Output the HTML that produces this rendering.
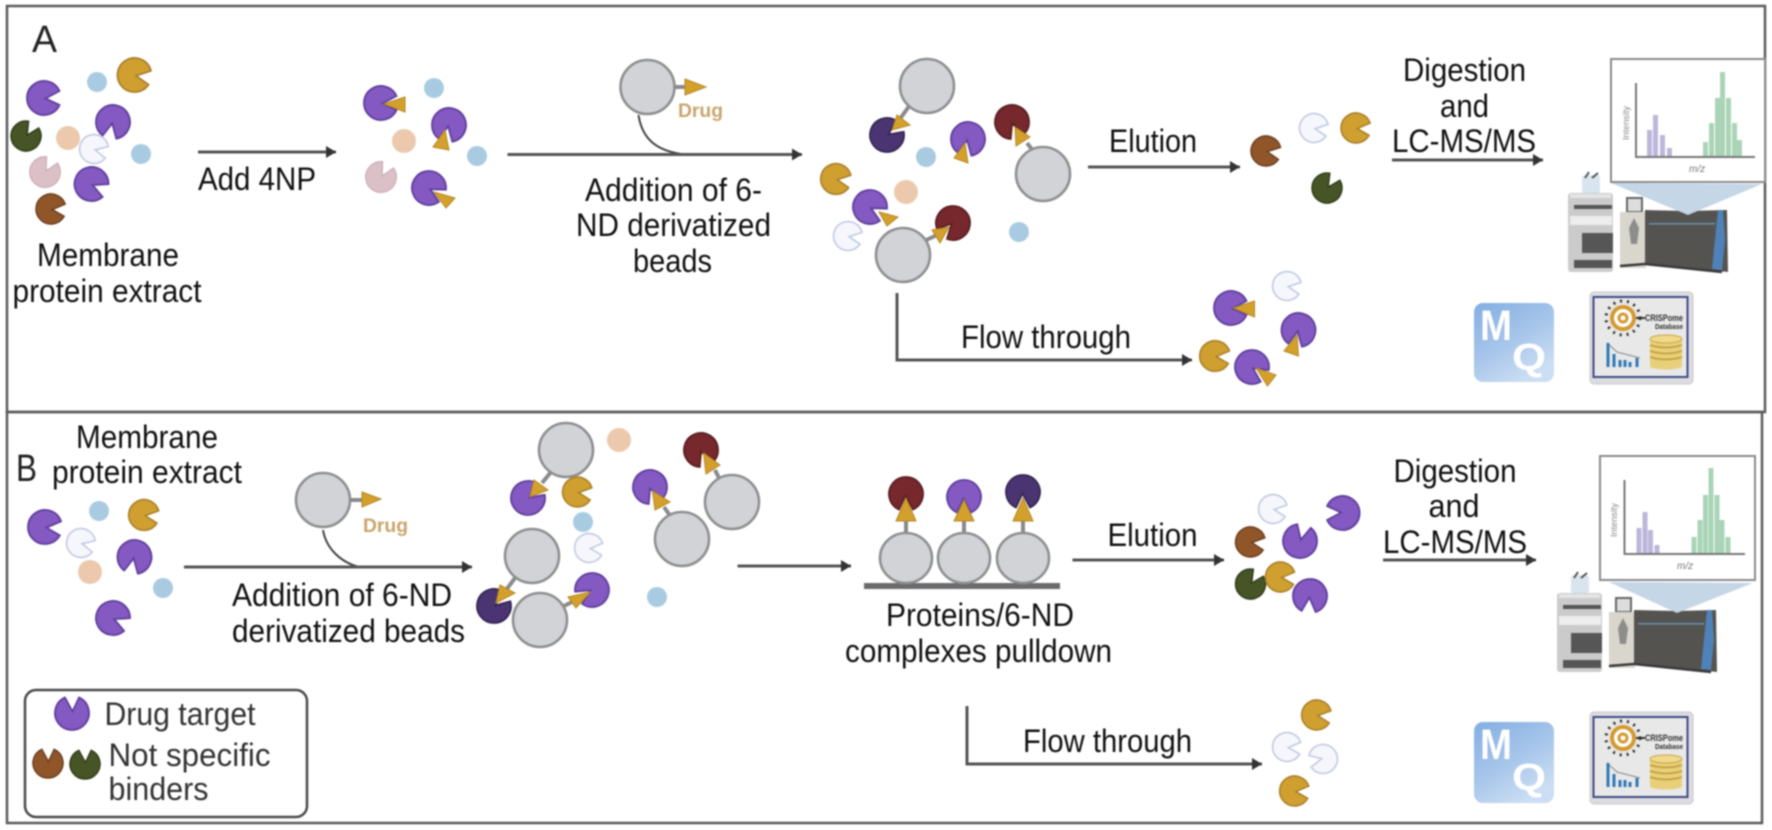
<!DOCTYPE html>
<html><head><meta charset="utf-8"><style>
html,body{margin:0;padding:0;background:#fff;width:1772px;height:830px;overflow:hidden}
svg{display:block;filter:blur(.7px)}
text{font-family:"Liberation Sans",sans-serif;fill:#111}
.t{font-size:32px}
.d{font-size:19px;font-weight:bold;fill:#c9a56c}
.l{fill:none;stroke:#555;stroke-width:3}
.b{fill:#d2d3d6;stroke:#8e8f91;stroke-width:2.6}
.s{stroke:#8a8a8a;stroke-width:4}
.g{fill:#d4a02c;stroke:#b58622;stroke-width:1}
.pu{fill:#8459c2;stroke:#5f3f9c;stroke-width:1.8}
.go{fill:#cf9f2f;stroke:#a9802a;stroke-width:1.8}
.wh{fill:#f6f7fc;stroke:#c4cce4;stroke-width:2}
.pk{fill:#dcc0c8;stroke:#cdb0ba;stroke-width:1.5}
.br{fill:#90562a;stroke:#6e4120;stroke-width:1.8}
.gr{fill:#465426;stroke:#333e1c;stroke-width:1.8}
.dr{fill:#76282c;stroke:#5a1e22;stroke-width:1.8}
.dp{fill:#4a3572;stroke:#352653;stroke-width:1.8}
.bl{fill:#a9cbe2}
.pe{fill:#ecc9ac}
.vp{fill:#bdb6da}
.vg{fill:#aad4b7}
</style></head><body>
<svg width="1772" height="830" viewBox="0 0 1772 830" xmlns="http://www.w3.org/2000/svg">
<defs>
<path id="pac" d="M1.500 0.500 L15.500 -7 A17 17 0 1 0 15.500 7 Z"/>
<marker id="ah" markerUnits="userSpaceOnUse" markerWidth="12" markerHeight="14" refX="10" refY="7" orient="auto"><path d="M0 1 L10 7 L0 13 Z" fill="#333"/></marker>
<linearGradient id="mq" x1="0" y1="0" x2=".6" y2="1"><stop offset="0" stop-color="#82aee2"/><stop offset=".55" stop-color="#a6c5ea"/><stop offset="1" stop-color="#cbdef3"/></linearGradient>
<g id="inst">
<rect x="1582" y="175" width="18" height="19" rx="3" fill="#d8e5ef"/>
<path d="M1585 178 L1589 172 M1592 178 L1598 173" stroke="#555" stroke-width="2"/>
<rect x="1568" y="193" width="45" height="79" rx="3" fill="#cbcbcb"/>
<rect x="1570" y="194" width="41" height="4" fill="#e4e4e4"/>
<rect x="1574" y="205" width="38" height="4" fill="#555"/>
<rect x="1570" y="216" width="42" height="9" fill="#ededed"/>
<rect x="1582" y="233" width="31" height="20" fill="#565656"/>
<rect x="1574" y="260" width="38" height="8" fill="#555"/>
<rect x="1627" y="198" width="15" height="14" fill="#ddd" stroke="#666" stroke-width="2"/>
<rect x="1620" y="212" width="26" height="56" fill="#d9d6cd"/>
<path d="M1634 218 L1639 228 L1637 244 L1631 244 L1629 228 Z" fill="#8d8d8a"/>
<path d="M1645 210 L1688 211 L1727 210 L1728 272 L1645 263 Z" fill="#555350"/>
<path d="M1718 210 L1723 210 L1725 240 L1722 270 L1712 269 Z" fill="#4f82b8"/>
<rect x="1649" y="223" width="66" height="1.500" fill="#6a90b0"/>
<path d="M1620 266 L1645 264 L1722 272" fill="none" stroke="#3a3a3a" stroke-width="2.500"/>
</g>
<g id="crisp">
<rect x="1590" y="0" width="103" height="92" rx="4" fill="#dcdce0" stroke="#c8c8cc"/>
<rect x="1593.500" y="5" width="94" height="80" fill="#e8e8e8" stroke="#3e4a86" stroke-width="2"/>
<circle cx="1623" cy="26" r="11" fill="#fff" stroke="#d39a2e" stroke-width="4"/>
<circle cx="1623" cy="26" r="17" fill="none" stroke="#333" stroke-width="3" stroke-dasharray="2 5"/>
<circle cx="1623" cy="26" r="4" fill="#fff" stroke="#d39a2e" stroke-width="3"/>
<rect x="1636" y="25" width="9" height="2" fill="#333"/>
<text x="1645" y="29" font-size="9" font-weight="bold" style="fill:#333" textLength="38" lengthAdjust="spacingAndGlyphs">CRISPome</text>
<text x="1655" y="37" font-size="7" font-weight="bold" style="fill:#333" textLength="28" lengthAdjust="spacingAndGlyphs">Database</text>
<path d="M1607 51 L1617 60 L1640 66" fill="none" stroke="#888" stroke-width="1"/>
<path d="M1608 51V75M1614 62V75M1620 68V75M1625 68V75M1630 70V75M1637 66V75" stroke="#2f77b8" stroke-width="3"/>
<rect x="1650" y="47" width="32" height="27" fill="#e8cf7a"/>
<ellipse cx="1666" cy="47" rx="16" ry="4" fill="#efd98c" stroke="#c9a640" stroke-width="1"/>
<path d="M1650 53 Q1666 58 1682 53 M1650 59 Q1666 64 1682 59 M1650 65 Q1666 70 1682 65" fill="none" stroke="#c09b38" stroke-width="1.500"/>
<ellipse cx="1666" cy="74" rx="16" ry="3.500" fill="#e8cf7a"/>
</g>
</defs>
<rect width="1772" height="830" fill="#fff"/>

<!-- panels -->
<rect x="7" y="6" width="1758" height="406" fill="none" stroke="#5b5b5b" stroke-width="2.500"/>
<rect x="7" y="412" width="1755" height="411" fill="none" stroke="#5b5b5b" stroke-width="2.500"/>

<text x="32" y="52" font-size="38" style="fill:#222" textLength="25" lengthAdjust="spacingAndGlyphs">A</text>
<text x="16" y="481" font-size="38" style="fill:#222" textLength="21" lengthAdjust="spacingAndGlyphs">B</text>

<!-- A: cluster 1 -->
<use href="#pac" class="go" transform="translate(134.500,75) rotate(10)"/>
<circle class="bl" cx="97" cy="82" r="10"/>
<use href="#pac" class="pu" transform="translate(44,98) rotate(0)"/>
<use href="#pac" class="pu" transform="translate(113,122) rotate(103)"/>
<use href="#pac" class="gr" transform="translate(26,136) rotate(-56) scale(.88)"/>
<circle class="pe" cx="68" cy="138" r="12"/>
<use href="#pac" class="wh" transform="translate(94,149) rotate(15) scale(.85)"/>
<circle class="bl" cx="141" cy="154" r="10"/>
<use href="#pac" class="pk" transform="translate(45,172) rotate(-60) scale(.9)"/>
<use href="#pac" class="pu" transform="translate(91.500,184) rotate(25)"/>
<use href="#pac" class="br" transform="translate(51,209) rotate(5) scale(.88)"/>
<text class="t" x="37" y="266" textLength="142" lengthAdjust="spacingAndGlyphs">Membrane</text>
<text class="t" x="12.500" y="302" textLength="189" lengthAdjust="spacingAndGlyphs">protein extract</text>
<line class="l" x1="198" y1="152" x2="336" y2="152" marker-end="url(#ah)"/>
<text class="t" x="198" y="190" textLength="118" lengthAdjust="spacingAndGlyphs">Add 4NP</text>

<!-- A: cluster 2 -->
<use href="#pac" class="pu" transform="translate(381,103) rotate(0)"/>
<polygon class="g" points="384,104 405,97 405,112"/>
<circle class="bl" cx="434" cy="88" r="10"/>
<use href="#pac" class="pu" transform="translate(449,125) rotate(103)"/>
<polygon class="g" points="445,130 433,147 449,150"/>
<circle class="pe" cx="404" cy="141" r="12"/>
<circle class="bl" cx="477" cy="156" r="10"/>
<use href="#pac" class="pk" transform="translate(381,177) rotate(-60) scale(.9)"/>
<use href="#pac" class="pu" transform="translate(429,188) rotate(30)"/>
<polygon class="g" points="434,192 455,198 446,208"/>

<!-- A: bead + drug -->
<circle class="b" cx="647.500" cy="87" r="27"/>
<line class="s" x1="675" y1="87" x2="687" y2="87"/>
<polygon class="g" points="685,79 685,95 706,87"/>
<text class="d" x="678" y="117" textLength="45" lengthAdjust="spacingAndGlyphs">Drug</text>
<path d="M638.500 115 C642 138 655 150 681 154" fill="none" stroke="#444" stroke-width="2"/>
<line class="l" x1="507.500" y1="154.500" x2="802" y2="154.500" marker-end="url(#ah)"/>
<text class="t" x="585" y="201" textLength="177" lengthAdjust="spacingAndGlyphs">Addition of 6-</text>
<text class="t" x="576" y="236" textLength="195" lengthAdjust="spacingAndGlyphs">ND derivatized</text>
<text class="t" x="633" y="272" textLength="79" lengthAdjust="spacingAndGlyphs">beads</text>

<!-- A: cluster 3 -->
<line class="s" x1="908.500" y1="107" x2="897" y2="123"/>
<circle class="b" cx="927" cy="86" r="27"/>
<use href="#pac" class="dp" transform="translate(887,135) rotate(-35)"/>
<polygon class="g" points="892,130 897,115 910,125"/>
<use href="#pac" class="pu" transform="translate(968,139) rotate(103)"/>
<polygon class="g" points="965,143 954,158 968,163"/>
<circle class="bl" cx="926" cy="157" r="10"/>
<line class="s" x1="1027" y1="143" x2="1034" y2="152"/>
<use href="#pac" class="dr" transform="translate(1012,122) rotate(70)"/>
<polygon class="g" points="1015,127 1016,146 1030,137"/>
<circle class="b" cx="1043" cy="174" r="27"/>
<circle class="pe" cx="906" cy="192" r="12"/>
<use href="#pac" class="go" transform="translate(836,179) rotate(10) scale(.9)"/>
<use href="#pac" class="pu" transform="translate(870,207) rotate(30)"/>
<polygon class="g" points="879,212 898,217 887,226"/>
<use href="#pac" class="wh" transform="translate(848,236) rotate(10) scale(.85)"/>
<line class="s" x1="937" y1="235" x2="920" y2="243"/>
<use href="#pac" class="dr" transform="translate(953,223) rotate(135)"/>
<polygon class="g" points="949,227 932,230 940,243"/>
<circle class="b" cx="903" cy="255" r="27"/>
<circle class="bl" cx="1019" cy="232" r="10"/>

<!-- A: elution -->
<text class="t" x="1109" y="152" textLength="88" lengthAdjust="spacingAndGlyphs">Elution</text>
<line class="l" x1="1088" y1="167" x2="1240" y2="167" marker-end="url(#ah)"/>
<use href="#pac" class="br" transform="translate(1266,151) rotate(10) scale(.88)"/>
<use href="#pac" class="wh" transform="translate(1314,128) rotate(10) scale(.85)"/>
<use href="#pac" class="go" transform="translate(1356,128) rotate(5) scale(.88)"/>
<use href="#pac" class="gr" transform="translate(1327,188) rotate(-55) scale(.88)"/>
<text class="t" x="1403" y="81" textLength="123" lengthAdjust="spacingAndGlyphs">Digestion</text>
<text class="t" x="1440" y="117" textLength="49" lengthAdjust="spacingAndGlyphs">and</text>
<text class="t" x="1392" y="152" textLength="144" lengthAdjust="spacingAndGlyphs">LC-MS/MS</text>
<line class="l" x1="1392" y1="160" x2="1543" y2="160" marker-end="url(#ah)"/>

<!-- A: flow through -->
<polyline class="l" points="897,293 897,360 1192,360" marker-end="url(#ah)"/>
<text class="t" x="961" y="348" textLength="170" lengthAdjust="spacingAndGlyphs">Flow through</text>
<use href="#pac" class="wh" transform="translate(1287,286) rotate(10) scale(.85)"/>
<use href="#pac" class="pu" transform="translate(1231,308) rotate(0)"/>
<polygon class="g" points="1233.500,308 1254.500,301 1254.500,317"/>
<use href="#pac" class="pu" transform="translate(1298.500,330) rotate(103)"/>
<polygon class="g" points="1297,335 1284,351 1298.500,356"/>
<use href="#pac" class="go" transform="translate(1215,356) rotate(5) scale(.9)"/>
<use href="#pac" class="pu" transform="translate(1252,367) rotate(35)"/>
<polygon class="g" points="1256,368 1276,375 1267.500,386"/>

<!-- A: instrument and spectrum -->
<use href="#inst"/>
<polygon points="1611,183 1762,184 1688,215" fill="#c5d6e6"/>
<rect x="1611" y="59" width="154" height="123" fill="#fff" stroke="#8a8a8a" stroke-width="2"/>
<g>
<rect class="vp" x="1647" y="130" width="5" height="27"/><rect class="vp" x="1653" y="115" width="5" height="42"/><rect class="vp" x="1660" y="135" width="5" height="22"/><rect class="vp" x="1667" y="148" width="5" height="9"/>
<rect class="vg" x="1703" y="142" width="5" height="15"/><rect class="vg" x="1709" y="123" width="5" height="34"/><rect class="vg" x="1715" y="98" width="5" height="59"/><rect class="vg" x="1720" y="72" width="5" height="85"/><rect class="vg" x="1726" y="98" width="5" height="59"/><rect class="vg" x="1732" y="123" width="5" height="34"/><rect class="vg" x="1737" y="140" width="5" height="17"/>
</g>
<path d="M1636 83 V157 H1755" fill="none" stroke="#777" stroke-width="2"/>
<text transform="translate(1629,140) rotate(-90)" font-size="9" style="fill:#888" textLength="34" lengthAdjust="spacingAndGlyphs">Intensity</text>
<text x="1689" y="172" font-size="10" font-style="italic" style="fill:#777">m/z</text>

<!-- A: MQ + CRISPome -->
<rect x="1474" y="303" width="80" height="79" rx="9" fill="url(#mq)"/>
<text x="1480" y="340" font-size="43" font-weight="bold" style="fill:#fff" textLength="32" lengthAdjust="spacingAndGlyphs">M</text>
<text x="1512" y="370" font-size="38" font-weight="bold" style="fill:#fff" textLength="34" lengthAdjust="spacingAndGlyphs">Q</text>
<use href="#crisp" transform="translate(0,292)"/>

<!-- B: cluster 1 -->
<text class="t" x="76" y="448" textLength="142" lengthAdjust="spacingAndGlyphs">Membrane</text>
<text class="t" x="52" y="483" textLength="190" lengthAdjust="spacingAndGlyphs">protein extract</text>
<use href="#pac" class="pu" transform="translate(45,527) rotate(5)"/>
<circle class="bl" cx="99" cy="511" r="10"/>
<use href="#pac" class="go" transform="translate(144,515) rotate(8) scale(.9)"/>
<use href="#pac" class="wh" transform="translate(81,543) rotate(15) scale(.85)"/>
<use href="#pac" class="pu" transform="translate(134.500,557) rotate(103)"/>
<circle class="pe" cx="90" cy="572" r="12"/>
<circle class="bl" cx="163" cy="588" r="10"/>
<use href="#pac" class="pu" transform="translate(113,618) rotate(25)"/>

<!-- B: bead + drug -->
<circle class="b" cx="323" cy="500" r="27"/>
<line class="s" x1="350" y1="500" x2="363" y2="500"/>
<polygon class="g" points="362,492 362,507 381,499"/>
<text class="d" x="363" y="532" textLength="45" lengthAdjust="spacingAndGlyphs">Drug</text>
<path d="M323 530 C326 548 340 562 359 567" fill="none" stroke="#444" stroke-width="2"/>
<line class="l" x1="184" y1="567" x2="472" y2="567" marker-end="url(#ah)"/>
<text class="t" x="232" y="606" textLength="220" lengthAdjust="spacingAndGlyphs">Addition of 6-ND</text>
<text class="t" x="232" y="642" textLength="233" lengthAdjust="spacingAndGlyphs">derivatized beads</text>

<!-- B: cluster 2 -->
<line class="s" x1="551" y1="472" x2="542" y2="483"/>
<circle class="b" cx="566" cy="450" r="27"/>
<use href="#pac" class="pu" transform="translate(528,498) rotate(-35)"/>
<polygon class="g" points="530,497 534,480 548,490"/>
<use href="#pac" class="go" transform="translate(577.500,492) rotate(8) scale(.88)"/>
<circle class="pe" cx="619" cy="440" r="12"/>
<line class="s" x1="715" y1="470" x2="720" y2="480"/>
<use href="#pac" class="dr" transform="translate(701,450) rotate(70)"/>
<polygon class="g" points="703.500,453 706,474 720,465"/>
<circle class="b" cx="732" cy="502" r="27"/>
<line class="s" x1="664" y1="507" x2="671" y2="517"/>
<use href="#pac" class="pu" transform="translate(650,487) rotate(70)"/>
<polygon class="g" points="652.500,491 655,510 670,502"/>
<circle class="b" cx="682" cy="539" r="27"/>
<circle class="bl" cx="583" cy="522" r="10"/>
<use href="#pac" class="wh" transform="translate(589,548) rotate(5) scale(.85)"/>
<line class="s" x1="515" y1="578" x2="506" y2="590"/>
<circle class="b" cx="532" cy="556" r="27"/>
<use href="#pac" class="dp" transform="translate(494,606) rotate(-40)"/>
<polygon class="g" points="496,603 500,585 515,593"/>
<line class="s" x1="562" y1="607" x2="576" y2="600"/>
<circle class="b" cx="540" cy="620" r="27"/>
<use href="#pac" class="pu" transform="translate(592,590) rotate(150)"/>
<polygon class="g" points="590.500,592 568,597 576,608"/>
<circle class="bl" cx="657" cy="597" r="10"/>
<line class="l" x1="737.500" y1="566" x2="851" y2="566" marker-end="url(#ah)"/>

<!-- B: pulldown -->
<rect x="864" y="583" width="196" height="6" fill="#6b6b6b"/>
<line class="s" x1="906" y1="533" x2="906" y2="520"/>
<line class="s" x1="964" y1="533" x2="964" y2="520"/>
<line class="s" x1="1023" y1="533" x2="1023" y2="520"/>
<use href="#pac" class="dr" transform="translate(906,494) rotate(90)"/>
<use href="#pac" class="pu" transform="translate(964,497) rotate(90)"/>
<use href="#pac" class="dp" transform="translate(1023,492) rotate(90)"/>
<polygon class="g" points="906,498 896,521 916,521"/>
<polygon class="g" points="964,500 954,521 974,521"/>
<polygon class="g" points="1023,498 1013,521 1033,521"/>
<ellipse class="b" cx="906" cy="558" rx="26" ry="25"/>
<ellipse class="b" cx="964" cy="558" rx="26" ry="25"/>
<ellipse class="b" cx="1023" cy="558" rx="26" ry="25"/>
<text class="t" x="886" y="626" textLength="188" lengthAdjust="spacingAndGlyphs">Proteins/6-ND</text>
<text class="t" x="845" y="662" textLength="267" lengthAdjust="spacingAndGlyphs">complexes pulldown</text>

<!-- B: elution -->
<text class="t" x="1107.500" y="546" textLength="90" lengthAdjust="spacingAndGlyphs">Elution</text>
<line class="l" x1="1072.500" y1="560" x2="1224" y2="560" marker-end="url(#ah)"/>
<use href="#pac" class="wh" transform="translate(1273,509) rotate(8) scale(.85)"/>
<use href="#pac" class="pu" transform="translate(1342.600,513) rotate(180)"/>
<use href="#pac" class="br" transform="translate(1250.500,542) rotate(8) scale(.88)"/>
<use href="#pac" class="pu" transform="translate(1300,541) rotate(-75)"/>
<use href="#pac" class="gr" transform="translate(1250.500,584) rotate(-55) scale(.88)"/>
<use href="#pac" class="go" transform="translate(1280.400,577) rotate(5) scale(.88)"/>
<use href="#pac" class="pu" transform="translate(1310,596) rotate(95)"/>
<text class="t" x="1393.500" y="482" textLength="123" lengthAdjust="spacingAndGlyphs">Digestion</text>
<text class="t" x="1428.500" y="517" textLength="51" lengthAdjust="spacingAndGlyphs">and</text>
<text class="t" x="1383" y="553" textLength="144" lengthAdjust="spacingAndGlyphs">LC-MS/MS</text>
<line class="l" x1="1383" y1="560" x2="1536" y2="560" marker-end="url(#ah)"/>

<!-- B: flow through -->
<polyline class="l" points="967,706 967,764 1262,764" marker-end="url(#ah)"/>
<text class="t" x="1023" y="752" textLength="169" lengthAdjust="spacingAndGlyphs">Flow through</text>
<use href="#pac" class="go" transform="translate(1316.600,715) rotate(8) scale(.88)"/>
<use href="#pac" class="wh" transform="translate(1287,747) rotate(5) scale(.85)"/>
<use href="#pac" class="wh" transform="translate(1323,759) rotate(170) scale(.85)"/>
<use href="#pac" class="go" transform="translate(1294.600,791) rotate(5) scale(.88)"/>

<!-- B: instrument and spectrum -->
<use href="#inst" transform="translate(-11,400)"/>
<polygon points="1609,582 1753,583 1677,613" fill="#c5d6e6"/>
<rect x="1600" y="456" width="155" height="124" fill="#fff" stroke="#8a8a8a" stroke-width="2"/>
<g>
<rect class="vp" x="1636.500" y="528" width="5" height="26"/><rect class="vp" x="1642.500" y="512" width="5" height="42"/><rect class="vp" x="1648" y="530" width="5" height="24"/><rect class="vp" x="1654.500" y="545" width="5" height="9"/>
<rect class="vg" x="1691.500" y="537" width="5" height="17"/><rect class="vg" x="1697.500" y="520" width="5" height="34"/><rect class="vg" x="1703" y="495" width="5" height="59"/><rect class="vg" x="1708.500" y="468" width="5" height="86"/><rect class="vg" x="1714.500" y="495" width="5" height="59"/><rect class="vg" x="1719.500" y="520" width="5" height="34"/><rect class="vg" x="1725.500" y="537" width="5" height="17"/>
</g>
<path d="M1624.500 480 V554 H1745" fill="none" stroke="#777" stroke-width="2"/>
<text transform="translate(1617,537) rotate(-90)" font-size="9" style="fill:#888" textLength="34" lengthAdjust="spacingAndGlyphs">Intensity</text>
<text x="1677" y="569" font-size="10" font-style="italic" style="fill:#777">m/z</text>

<!-- B: MQ + CRISPome -->
<rect x="1474" y="722" width="80" height="81" rx="9" fill="url(#mq)"/>
<text x="1480" y="759" font-size="43" font-weight="bold" style="fill:#fff" textLength="32" lengthAdjust="spacingAndGlyphs">M</text>
<text x="1512" y="790" font-size="38" font-weight="bold" style="fill:#fff" textLength="34" lengthAdjust="spacingAndGlyphs">Q</text>
<use href="#crisp" transform="translate(0,712)"/>

<!-- legend -->
<rect x="25" y="690" width="282" height="127" rx="11" fill="#fff" stroke="#4a4a4a" stroke-width="2.500"/>
<use href="#pac" class="pu" transform="translate(72,713) rotate(-90)"/>
<text class="t" x="104.500" y="725" style="fill:#333" textLength="151" lengthAdjust="spacingAndGlyphs">Drug target</text>
<use href="#pac" class="br" transform="translate(48,763) rotate(-90) scale(.88)"/>
<use href="#pac" class="gr" transform="translate(85,764) rotate(-90) scale(.88)"/>
<text class="t" x="108.500" y="766" style="fill:#333" textLength="162" lengthAdjust="spacingAndGlyphs">Not specific</text>
<text class="t" x="108.500" y="800" style="fill:#333" textLength="100" lengthAdjust="spacingAndGlyphs">binders</text>
</svg>
</body></html>
